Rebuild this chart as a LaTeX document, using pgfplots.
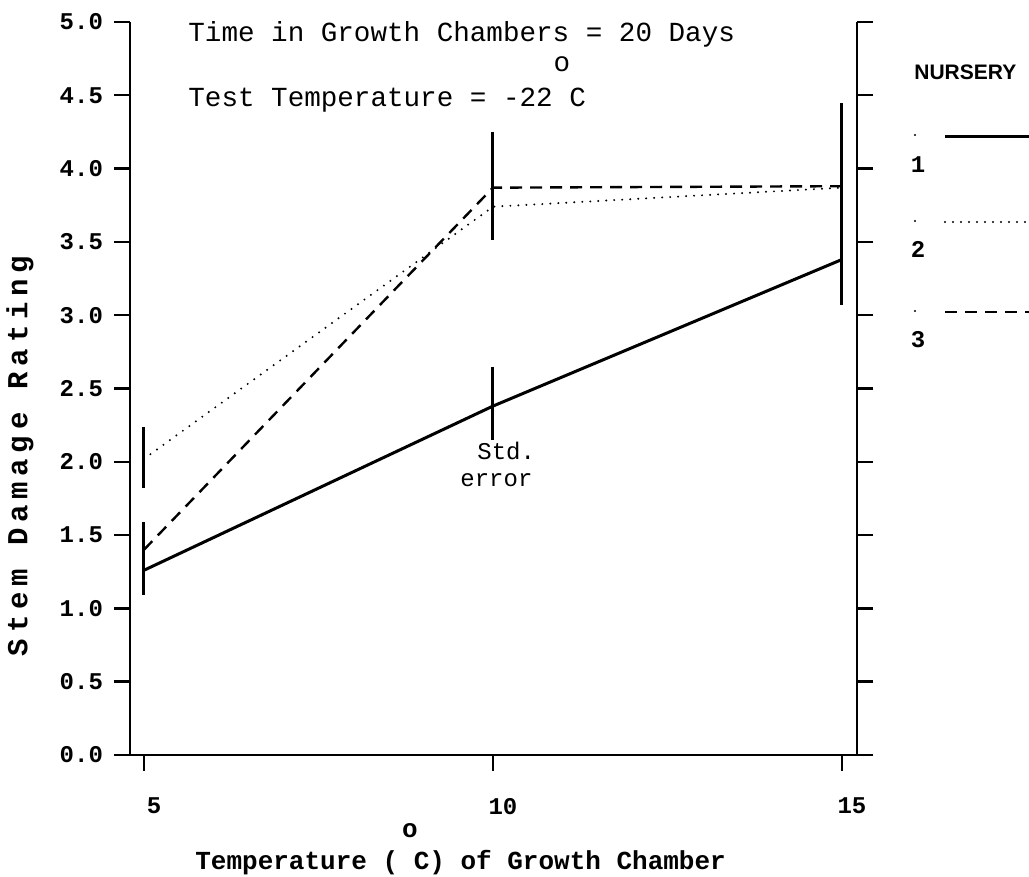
\documentclass[border=0pt]{standalone}
\usepackage{fontspec}
\setmainfont{Liberation Sans}
\setsansfont{Liberation Sans}
\setmonofont{Liberation Mono}
\newfontfamily\widemono[LetterSpace=20]{Liberation Mono}
\usepackage{pgfplots}
\pgfplotsset{compat=1.18}

% line styles of the three nurseries
\tikzset{
  nurseryA/.style={black, line width=1.5pt},
  nurseryB/.style={black, line width=1.1pt, line cap=round, dash pattern=on 0pt off 4pt},
  nurseryC/.style={black, line width=1.2pt, dash pattern=on 6pt off 4pt},
}

\begin{document}
\begin{tikzpicture}[x=1pt,y=1pt]
\useasboundingbox (-65,-61) rectangle (449.5,377.5);

% right-hand axis: ticks only
\begin{axis}[
  at={(0,0)}, anchor=south west, scale only axis,
  width=363.5pt, height=366.5pt,
  xmin=4.8, xmax=15.215, ymin=0, ymax=5,
  axis x line=none, axis y line=right,
  axis line style={line width=1.4pt,-},
  tick align=outside, major tick length=8pt,
  tick style={line width=1.2pt,black},
  ytick={0,0.5,...,5}, yticklabels={},
]
\end{axis}

\begin{axis}[
  at={(0,0)}, anchor=south west, scale only axis,
  width=363.5pt, height=366.5pt,
  xmin=4.8, xmax=15.215, ymin=0, ymax=5,
  axis x line=bottom, axis y line=left,
  axis line style={line width=1.4pt,-},
  tick align=outside, major tick length=8pt,
  tick style={line width=1.2pt,black},
  xtick={5,10,15}, xticklabels={5,10,15},
  ytick={0,0.5,1,1.5,2,2.5,3,3.5,4,4.5,5},
  yticklabels={0.0,0.5,1.0,1.5,2.0,2.5,3.0,3.5,4.0,4.5,5.0},
  ticklabel style={font=\ttfamily\bfseries\fontsize{12}{14}\selectfont},
  xticklabel style={xshift=5pt, yshift=-10pt},
  yticklabel style={xshift=-2pt},
  clip=false,
]
% standard errors
\addplot[mark=none, draw=none,
  error bars/.cd, y dir=both, y explicit, error mark=none,
  error bar style={line width=1.5pt, black}]
  coordinates {
    (5,1.34) +- (0,0.25)
    (5,2.03) +- (0,0.21)
    (10,3.88) +- (0,0.37)
    (10,2.40) +- (0,0.25)
    (15,3.76) +- (0,0.69)
  };
% nursery 1
\addplot[nurseryA, mark=none] coordinates {(5,1.26) (10,2.38) (15,3.38)};
% nursery 2
\addplot[nurseryB, mark=none] coordinates {(5,2.02) (10,3.74) (15,3.87)};
% nursery 3
\addplot[nurseryC, mark=none] coordinates {(5,1.40) (10,3.87) (15,3.88)};
\end{axis}

% annotations
\begin{scope}[every node/.style={inner sep=0pt}]
\node[anchor=base west, font=\ttfamily\fontsize{13.8}{16}\selectfont] at (29,356.5) {Time in Growth Chambers = 20 Days};
\node[anchor=base, font=\ttfamily\fontsize{13.8}{16}\selectfont] at (216,341.5) {o};
\node[anchor=base west, font=\ttfamily\fontsize{13.8}{16}\selectfont] at (29,324) {Test Temperature = -22 C};

\node[anchor=base west, font=\ttfamily\fontsize{12}{14}\selectfont] at (173.5,147.5) {Std.};
\node[anchor=base west, font=\ttfamily\fontsize{12}{14}\selectfont] at (165,134) {error};

\node[anchor=base west, font=\ttfamily\bfseries\fontsize{13}{15}\selectfont] at (32.5,-57.5) {Temperature ( C) of Growth Chamber};
\node[anchor=base, font=\ttfamily\bfseries\fontsize{13}{15}\selectfont] at (140,-41.5) {o};

\node[rotate=90, font=\widemono\bfseries\fontsize{14.5}{17}\selectfont] at (-55,149.5) {Stem Damage Rating};

% legend
\node[anchor=west, font=\sffamily\bfseries\fontsize{10.5}{12}\selectfont] at (392,341.5) {NURSERY};
\draw[nurseryA] (407.5,309) -- (470,309);
\draw[nurseryB] (407.5,266.5) -- (470,266.5);
\draw[nurseryC] (407.5,221.5) -- (470,221.5);
\fill (392.5,310) circle (0.6pt);
\fill (392.5,267) circle (0.6pt);
\fill (392.5,222) circle (0.6pt);
\node[anchor=base, font=\ttfamily\bfseries\fontsize{12}{14}\selectfont] at (394,291) {1};
\node[anchor=base, font=\ttfamily\bfseries\fontsize{12}{14}\selectfont] at (394,248.5) {2};
\node[anchor=base, font=\ttfamily\bfseries\fontsize{12}{14}\selectfont] at (394,203.5) {3};
\end{scope}
\end{tikzpicture}
\end{document}
